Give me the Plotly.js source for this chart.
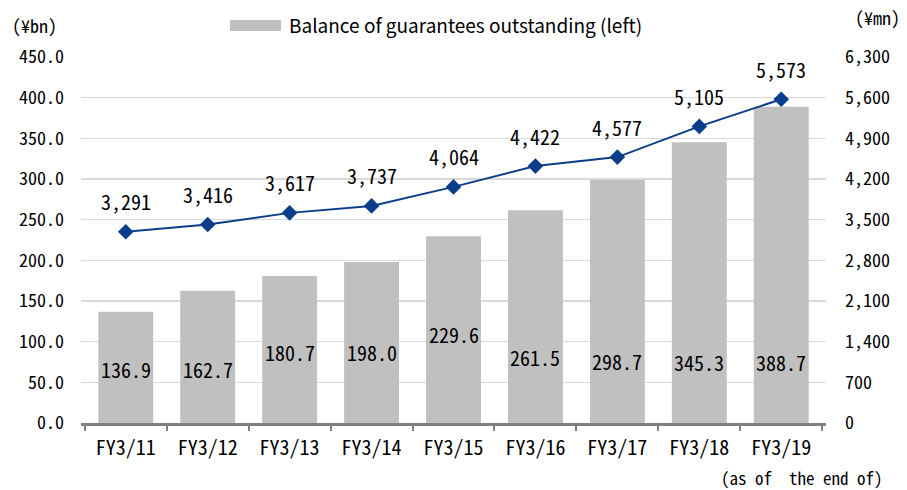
<!DOCTYPE html>
<html><head><meta charset="utf-8">
<script src="https://cdn.plot.ly/plotly-3.0.1.min.js"></script>
<style>body{margin:0;background:#fff}#c{width:907px;height:490px}</style>
</head><body><div id="c"></div>
<script>
const categories = ["FY3/11","FY3/12","FY3/13","FY3/14","FY3/15","FY3/16","FY3/17","FY3/18","FY3/19"];
const balanceBn = [136.9,162.7,180.7,198.0,229.6,261.5,298.7,345.3,388.7];
const secondSeriesMn = [3291,3416,3617,3737,4064,4422,4577,5105,5573];
const leftTicks = [0,50,100,150,200,250,300,350,400,450];
const rightTicks = [0,700,1400,2100,2800,3500,4200,4900,5600,6300];
const barLabelY = [66,66,87,87,109,81,76,74,74];

const FONT = '"Noto Sans Mono CJK JP", "Noto Sans CJK JP", sans-serif';
const PFONT = '"Noto Sans CJK JP", "Noto Sans", sans-serif';
const fmtInt = v => v.toLocaleString('en-US');

const bars = {
  type:'bar', x:categories, y:balanceBn, name:'Balance of guarantees outstanding (left)',
  marker:{color:'#c0c0c0'}, hoverinfo:'none', showlegend:false
};
const line = {
  type:'scatter', mode:'lines+markers', x:categories, y:secondSeriesMn, yaxis:'y2',
  line:{color:'#0b3d8a', width:2}, marker:{symbol:'diamond', size:12, color:'#0b3d8a'},
  showlegend:false, cliponaxis:false
};

const annotations = balanceBn.map((v,i)=>({
  x:categories[i], y:barLabelY[i], xref:'x', yref:'y', text:v.toFixed(1),
  showarrow:false, font:{family:FONT, size:20, color:'#000'}
}));
secondSeriesMn.forEach((v,i)=>annotations.push({
  x:categories[i], y:v, xref:'x', yref:'y2', yshift:30, text:fmtInt(v),
  showarrow:false, font:{family:FONT, size:20, color:'#000'}
}));
annotations.push({xref:'paper', yref:'paper', x:(10-81)/745, y:(423-25)/366, xanchor:'left', yanchor:'middle', text:'(¥bn)', showarrow:false, font:{family:FONT,size:18,color:'#000'}});
annotations.push({xref:'paper', yref:'paper', x:(902-81)/745, y:(423-17)/366, xanchor:'right', yanchor:'middle', text:'(¥mn)', showarrow:false, font:{family:FONT,size:18,color:'#000'}});
annotations.push({xref:'paper', yref:'paper', x:(885-81)/745, y:(423-477)/366, xanchor:'right', yanchor:'middle', text:'(as of  the end of)', showarrow:false, font:{family:FONT,size:17,color:'#000'}});
annotations.push({xref:'paper', yref:'paper', x:(287-81)/745, y:(423-25)/366, xanchor:'left', yanchor:'middle', text:bars.name, showarrow:false, font:{family:PFONT,size:19,color:'#000'}});

const layout = {
  width:907, height:490, margin:{l:81, r:81, t:57, b:67},
  paper_bgcolor:'#fff', plot_bgcolor:'#fff',
  font:{family:FONT, size:18, color:'#000'},
  bargap:0.33,
  showlegend:false,
  shapes:[{type:'rect', xref:'paper', yref:'paper', x0:(230-81)/745, x1:(281-81)/745, y0:(423-31)/366, y1:(423-20)/366, fillcolor:'#c0c0c0', line:{width:0}}],
  xaxis:{type:'category', showgrid:false, showline:true, linecolor:'#808080', linewidth:2.5,
    ticks:'outside', ticklen:5, tickwidth:2, tickcolor:'#808080', tickson:'boundaries',
    tickfont:{family:FONT,size:20}, ticklabelstandoff:5},
  yaxis:{range:[0,450], tickvals:leftTicks, ticktext:leftTicks.map(v=>v.toFixed(1)),
    showgrid:true, gridcolor:'#d9d9d9', gridwidth:1.5, zeroline:false, showline:false,
    ticks:'', tickfont:{family:FONT,size:18}, ticklabelstandoff:16},
  yaxis2:{range:[0,6300], tickvals:rightTicks, ticktext:rightTicks.map(fmtInt), overlaying:'y', side:'right',
    showgrid:false, zeroline:false, showline:false, ticks:'', tickfont:{family:FONT,size:18}, ticklabelstandoff:18},
  annotations:annotations
};
Plotly.newPlot('c',[bars,line],layout,{staticPlot:true});
</script></body></html>
